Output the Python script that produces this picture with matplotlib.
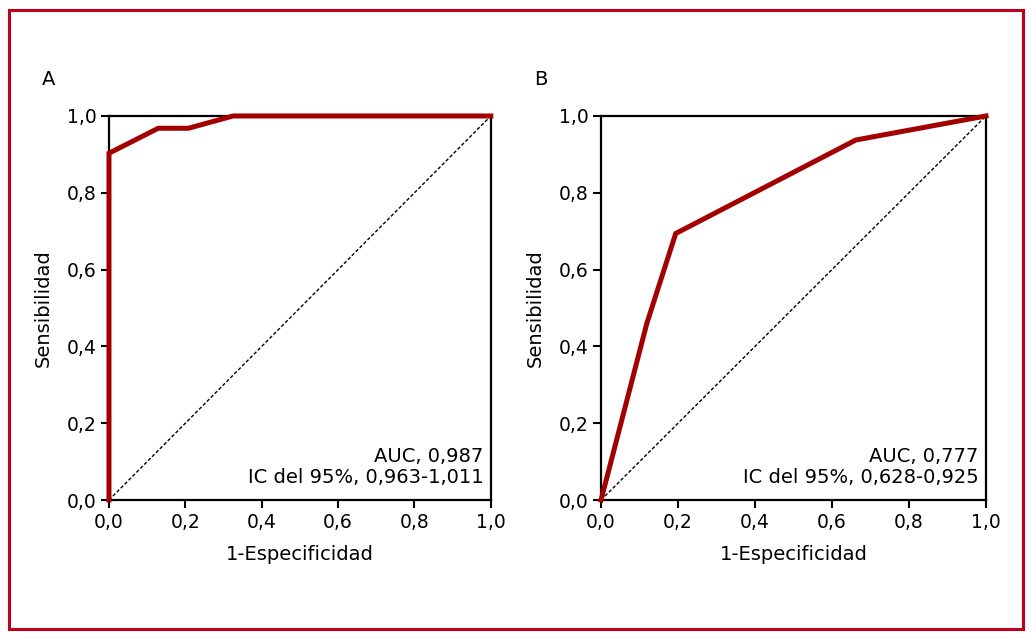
import matplotlib
matplotlib.use("Agg")
import matplotlib.pyplot as plt
from matplotlib.patches import Rectangle
from matplotlib.ticker import FixedLocator

plt.rcParams['font.family'] = ['Liberation Sans Narrow', 'DejaVu Sans']

# curva ROC A
fpr_a = [0.0, 0.0, 0.129, 0.208, 0.325, 1.0]
tpr_a = [0.0, 0.903, 0.968, 0.968, 1.0, 1.0]
# curva ROC B
fpr_b = [0.0, 0.119, 0.194, 0.662, 1.0]
tpr_b = [0.0, 0.46, 0.694, 0.9375, 1.0]

panel_names = ['A', 'B']
auc_texts = ['AUC, 0,987\nIC del 95%, 0,963-1,011',
             'AUC, 0,777\nIC del 95%, 0,628-0,925']
ticks = [0.0, 0.2, 0.4, 0.6, 0.8, 1.0]
tick_labels = ['0,0', '0,2', '0,4', '0,6', '0,8', '1,0']

red = '#a30000'

fig = plt.figure(figsize=(10.32, 6.39), dpi=100)
fig.patches.append(Rectangle((0.009, 0.016), 0.982, 0.968, transform=fig.transFigure,
                             fill=False, edgecolor='#c0001a', linewidth=2.2))

positions = [[0.1056, 0.2175, 0.370, 0.601], [0.5824, 0.2175, 0.373, 0.601]]
curves = [(fpr_a, tpr_a), (fpr_b, tpr_b)]

for pos, (fx, ty), name, txt in zip(positions, curves, panel_names, auc_texts):
    ax = fig.add_axes(pos)
    ax.plot([0, 1], [0, 1], color='black', linestyle=(0, (2.5, 1.5)), linewidth=1.0)
    ax.plot(fx, ty, color=red, linewidth=3.6, solid_joinstyle='miter', clip_on=False, zorder=3)
    ax.set_xlim(0, 1)
    ax.set_ylim(0, 1)
    ax.xaxis.set_major_locator(FixedLocator(ticks))
    ax.yaxis.set_major_locator(FixedLocator(ticks))
    ax.set_xticklabels(tick_labels)
    ax.set_yticklabels(tick_labels)
    ax.tick_params(direction='out', length=6, width=1.5, labelsize=13.5, pad=3)
    for s in ax.spines.values():
        s.set_linewidth(1.6)
    ax.set_xlabel('1-Especificidad', fontsize=14, labelpad=10)
    ax.set_ylabel('Sensibilidad', fontsize=14, labelpad=10)
    ax.text(0.98, 0.035, txt, transform=ax.transAxes, ha='right', va='bottom',
            fontsize=14, linespacing=1.1)
    ax.text(-0.175, 1.07, name, transform=ax.transAxes, ha='left', va='bottom', fontsize=14)

fig.savefig('out.png', dpi=100)
